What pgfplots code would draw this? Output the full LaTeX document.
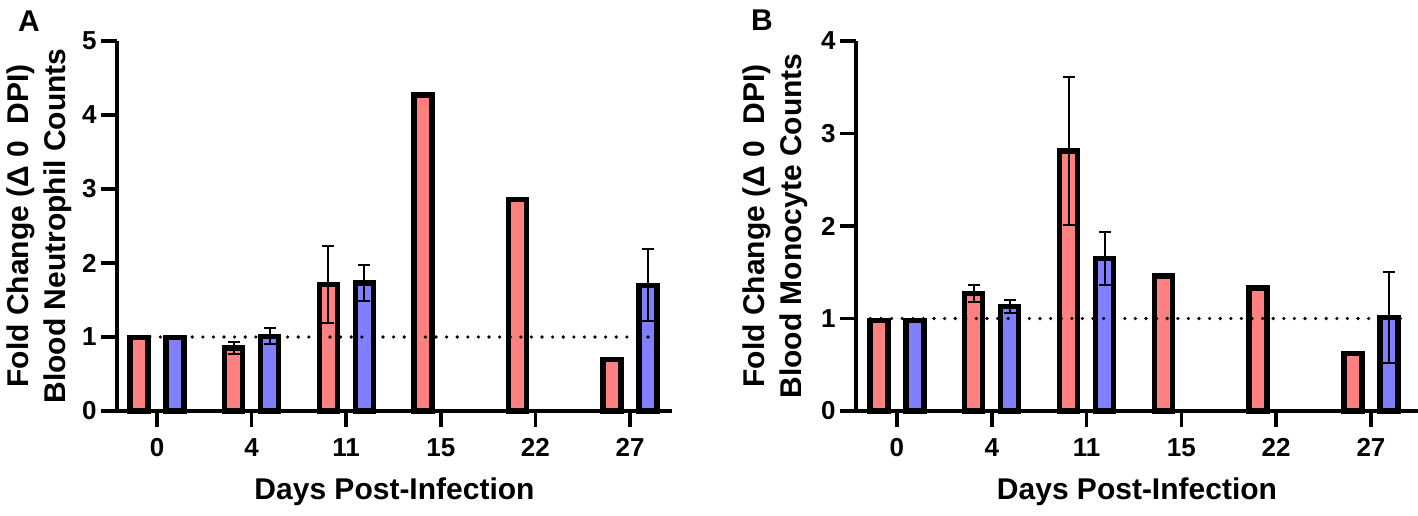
\documentclass[border=0pt]{standalone}
\usepackage{pgfplots}
\pgfplotsset{compat=1.18}
\usepackage{fontspec}
\setmainfont{Liberation Sans}
\definecolor{myred}{HTML}{FF8080}
\definecolor{myblue}{HTML}{8080FF}

\pgfplotsset{
 panel/.style={
  scale only axis, anchor=south west,
  height=185pt,
  ymin=0,
  axis x line=bottom, axis y line=left,
  axis line style={line width=1.8pt, -},
  tick style={line width=1.8pt, black},
  major tick length=8pt,
  tick align=outside,
  xtick={0,...,5},
  xticklabels={0,4,11,15,22,27},
  ytick distance=1,
  ybar, bar width=9pt,
  tick label style={font=\fontsize{13}{15}\selectfont\bfseries},
  yticklabel style={inner sep=2pt},
  /pgf/number format/assume math mode=true,
  xticklabel style={anchor=base, yshift=-14.5pt},
  clip=false,
  xlabel={Days Post-Infection},
  xlabel style={at={(axis description cs:0.5,-0.238)}, anchor=base, font=\fontsize{15}{18}\selectfont\bfseries},
  ylabel style={anchor=center, align=center, font=\fontsize{15}{18.5}\selectfont\bfseries},
 },
 barplot/.style={line width=2.7pt, draw=black, fill=#1,
   error bars/y dir=both, error bars/y explicit,
   error bars/error bar style={line width=1pt, black, solid},
   error bars/error mark options={line width=1pt, black, mark size=3pt, rotate=90}},
 dotline/.style={sharp plot, no markers, line width=1.8pt, black, line cap=round,
   dash pattern=on 0pt off 5.3pt, forget plot},
}

\begin{document}
\begin{tikzpicture}
\useasboundingbox (0,0) rectangle (709pt,257.5pt);

% Panel A
\begin{axis}[panel, at={(58.5pt,52pt)}, width=277.5pt,
  xmin=-0.423, xmax=5.444, ymax=5,
  ylabel={Fold Change (Δ 0\ \ DPI)\\Blood Neutrophil Counts},
  ylabel style={at={(axis description cs:-0.1405,0.5)}}]
\addplot[barplot=myred, bar shift=-9pt] coordinates {
  (0,0.99) (1,0.85) +- (0,0.08) (2,1.71) +- (0,0.52)
  (3,4.27) (4,2.86) (5,0.70)};
\addplot[barplot=myblue, bar shift=9pt] coordinates {
  (0,0.99) (1,1.01) +- (0,0.11) (2,1.73) +- (0,0.24)
  (5,1.70) +- (0,0.49)};
\addplot[dotline] coordinates {(-0.30,1) (5.34,1)};
\draw[line width=1.8pt] (rel axis cs:0,0) -- ++(-8pt,0);
\end{axis}

% Panel B
\begin{axis}[panel, at={(428pt,52pt)}, width=281pt,
  xmin=-0.432, xmax=5.496, ymax=4,
  ylabel={Fold Change (Δ 0\ \ DPI)\\Blood Monocyte Counts},
  ylabel style={at={(axis description cs:-0.144,0.5)}}]
\addplot[barplot=myred, bar shift=-9pt] coordinates {
  (0,0.98) (1,1.27) +- (0,0.09) (2,2.81) +- (0,0.80)
  (3,1.46) (4,1.33) (5,0.62)};
\addplot[barplot=myblue, bar shift=9pt] coordinates {
  (0,0.98) (1,1.13) +- (0,0.07) (2,1.65) +- (0,0.29)
  (5,1.01) +- (0,0.49)};
\addplot[dotline] coordinates {(-0.28,1) (5.33,1)};
\draw[line width=1.8pt] (rel axis cs:0,0) -- ++(-8pt,0);
\end{axis}

\node[anchor=base west, font=\fontsize{15}{18}\selectfont\bfseries] at (5.5pt,241.5pt) {A};
\node[anchor=base west, font=\fontsize{15}{18}\selectfont\bfseries] at (372pt,242pt) {B};
\end{tikzpicture}
\end{document}
